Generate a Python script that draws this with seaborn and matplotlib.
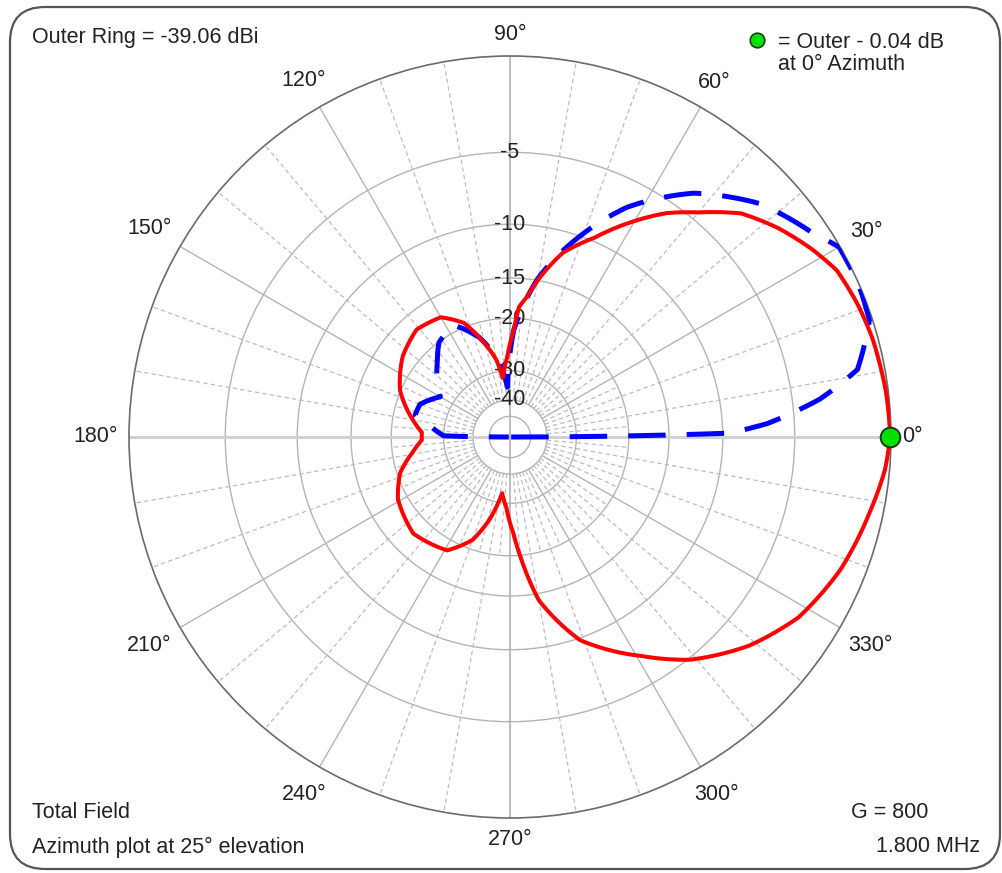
import numpy as np
import matplotlib
matplotlib.use("Agg")
import matplotlib.pyplot as plt
import seaborn as sns
from matplotlib.patches import FancyBboxPatch
from matplotlib.lines import Line2D

# ---- pattern data (azimuth in degrees, field in dB relative to the outer ring) ----
red_az = [0, 7, 12, 15, 21, 27, 32, 38, 44, 50, 55, 61, 67, 74, 80, 83, 86, 88, 92, 97,
          100, 107, 112, 120, 131, 143, 157, 170, 177, 182, 189, 198, 209, 225, 241, 250,
          256, 262, 267, 272, 275, 280, 289, 301, 309, 319, 328, 338, 348, 355, 360]
red_db = [-0.04, -0.11, -0.2, -0.24, -0.41, -0.65, -1.2, -1.97, -2.9, -4.5, -5.7, -7.6,
          -9.7, -11.8, -15.0, -17.0, -18.4, -21.8, -26.8, -31.9,
          -27.2, -22.3, -19.4, -17.4, -16.9, -17.9, -19.9, -23.2, -25.1, -25.1, -23.2,
          -20.5, -18.7, -17.6, -18.5, -21.4,
          -25.7, -32.7, -29.0, -23.6, -19.8, -14.3, -9.84, -6.86, -4.89, -3.12, -1.94,
          -1.17, -0.63, -0.21, -0.04]

blue_az = [0, 1, 3, 7, 11, 18, 24, 30, 34, 43, 53, 63, 71, 80, 88, 93, 98, 107, 117,
           127, 134, 150, 160, 167, 173, 179, 180]
blue_db = [-99, -9.5, -6.7, -3.4, -1.26, -0.14, -0.02, -0.05, -0.74, -1.85, -3.8, -6.7,
           -10.1, -14.8, -21.8, -34.9, -27.9, -22.3, -19.0,
           -20.1, -22.2, -26.7, -23.7, -23.4, -27.1, -30.0, -99]

marker_az = [0]
marker_db = [-0.04]

ring_levels = [-5, -10, -15, -20, -30, -40]
grid_levels = [-50, -40, -30, -20, -15, -10, -5]
theta_ticks = list(range(0, 360, 30))
theta_labels = [f"{a}°" for a in theta_ticks]

W, H, DPI = 1003, 873, 100
sns.set_theme(style="white")
plt.rcParams["font.family"] = ["Liberation Sans", "DejaVu Sans"]
FS = 15.5
TXT = "#222222"


# ARRL log scale: radius shrinks by 0.89 for every 2 dB
def arrl_fwd(db):
    return np.power(0.89, -np.asarray(db, dtype=float) / 2.0)


def arrl_inv(r):
    r = np.asarray(r, dtype=float)
    with np.errstate(divide="ignore", invalid="ignore"):
        return -2.0 * np.log(r) / np.log(0.89)


fig = plt.figure(figsize=(W / DPI, H / DPI), dpi=DPI)
fig.patch.set_facecolor("white")

R = 381
cx, cy = 510, 437
ax = fig.add_axes([(cx - R) / W, (H - cy - R) / H, 2 * R / W, 2 * R / H],
                  projection="polar")
ax.set_rscale("function", functions=(arrl_fwd, arrl_inv))
ax.set_rlim(-200, 0)
ax.set_facecolor("white")

# circular grid
ax.set_rgrids(grid_levels, labels=[""] * len(grid_levels))
ax.yaxis.grid(True, color="#b4b4b4", lw=1.0, ls="-")
ax.xaxis.grid(False)
ax.set_xticks([])
ax.spines["polar"].set_color("#6a6a6a")
ax.spines["polar"].set_linewidth(1.2)

# spokes
solid_sp = [a for a in range(0, 360, 30) if a % 90 != 0]
dash10 = [a for a in range(0, 360, 10) if a % 30 != 0]
dash5 = [a for a in range(5, 360, 10)]
ax.vlines(np.deg2rad(solid_sp), -40, 0, colors="#b4b4b4", lw=1.0, zorder=1)
ax.vlines(np.deg2rad(dash10), -40, 0, colors="#bcbcbc", lw=0.9,
          linestyles=(0, (3.5, 2.5)), zorder=1)
ax.vlines(np.deg2rad(dash5), -40, -20, colors="#bcbcbc", lw=0.9,
          linestyles=(0, (3.5, 2.5)), zorder=1)
ax.vlines(np.deg2rad([0, 180]), -200, 0, colors="#d0d0d0", lw=2.2, zorder=1)
ax.vlines(np.deg2rad([90, 270]), -200, 0, colors="#b0b0b0", lw=1.2, zorder=1)

# ring labels along the 90 degree axis
for lv in ring_levels:
    ax.text(np.pi / 2, lv, f"{lv}", ha="center", va="center", fontsize=FS,
            color=TXT, zorder=2)

# pattern traces
sns.lineplot(x=np.deg2rad(blue_az), y=blue_db, ax=ax, sort=False, estimator=None,
             color="#0000ff", lw=3.6, linestyle=(0, (7.5, 4.2)), zorder=4)
sns.lineplot(x=np.deg2rad(red_az), y=red_db, ax=ax, sort=False, estimator=None,
             color="#ff0000", lw=2.9, zorder=5)
# draw each trace segment as a polar arc/spiral rather than a straight chord
for ln in ax.lines:
    ln._path._interpolation_steps = 40
sns.scatterplot(x=np.deg2rad(marker_az), y=marker_db, ax=ax, s=200, color="#00e000",
                edgecolor="#1a3a1a", linewidth=1.4, zorder=6, clip_on=False)
ax.set_xlabel("")
ax.set_ylabel("")
ax.set_rlim(-200, 0)

# azimuth labels outside the outer ring
gap = 11
ann = []
for a, lab in zip(theta_ticks, theta_labels):
    t = ax.annotate(lab, xy=(np.deg2rad(a), 0), xycoords="data", xytext=(0, 0),
                    textcoords="offset pixels", ha="center", va="center",
                    fontsize=FS, color=TXT, annotation_clip=False)
    ann.append((t, a))
fig.canvas.draw()
for t, a in ann:
    bb = t.get_window_extent()
    ar = np.deg2rad(a)
    d = gap + abs(np.cos(ar)) * bb.width / 2 + abs(np.sin(ar)) * bb.height / 2
    t.xyann = (d * np.cos(ar), d * np.sin(ar))


# corner annotations
def ftxt(x, y, s, ha="left"):
    fig.text(x / W, 1 - y / H, s, ha=ha, va="center", fontsize=FS, color=TXT)


ftxt(32, 37, "Outer Ring = -39.06 dBi")
ftxt(32, 813, "Total Field")
ftxt(32, 847, "Azimuth plot at 25° elevation")
ftxt(928, 813, "G = 800", ha="right")
ftxt(980, 847, "1.800 MHz", ha="right")
ftxt(778, 42, "= Outer - 0.04 dB")
ftxt(778, 65, "at 0° Azimuth")
fig.add_artist(Line2D([757 / W], [1 - 40 / H], marker="o", ms=10.5, color="#00e000",
                      markeredgecolor="#1a3a1a", markeredgewidth=1.2,
                      transform=fig.transFigure))

# rounded frame
frame = FancyBboxPatch((10 / W, 4 / H), 990 / W, 862 / H,
                       boxstyle="round,pad=0,rounding_size=0.035",
                       transform=fig.transFigure, fill=False, ec="#555555", lw=1.6,
                       mutation_aspect=W / H)
fig.add_artist(frame)

fig.savefig("out.png", dpi=DPI, facecolor="white")
